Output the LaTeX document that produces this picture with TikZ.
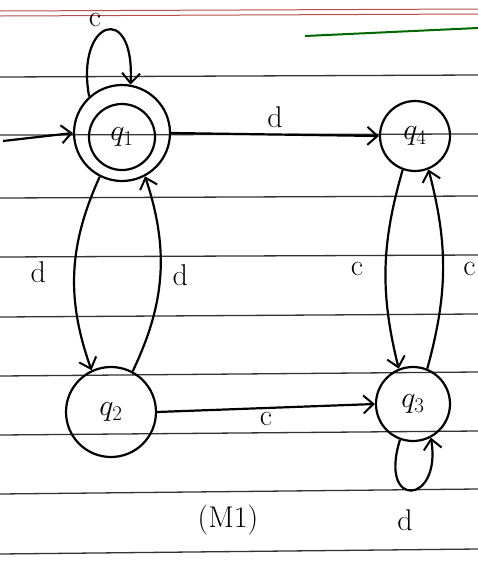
\documentclass[tikz,border=0pt]{standalone}
\usepackage{fix-cm}
\usepackage{fontspec}
\usetikzlibrary{arrows.meta}
\begin{document}
\begin{tikzpicture}[x=1pt,y=-1pt,
  ink/.style={line width=2.2pt,black},
  stt/.style={circle,draw,ink,inner sep=0pt,font=\fontsize{30}{32}\selectfont},
  rule/.style={line width=1.3pt,black!80},
  tr/.style={ink,-{Straight Barb[length=10pt,width=18pt,line width=2pt]}},
  lbl/.style={font=\fontsize{30}{32}\selectfont}]
\useasboundingbox (0,0) rectangle (478,563);
% ruled paper
\draw[line width=1pt,red!60!black!70] (0,11) -- (478,9);
\draw[line width=1pt,red!60!black!70] (0,16) -- (478,14);
\foreach \y/\z in {77/75,135/134,198/196,257/255,317/314,376/372,435/431,494/489,554/549}
  \draw[rule] (0,\y) -- (478,\z);
\draw[line width=2pt,green!40!black] (305,36) -- (478,28);
% states
\node[stt,minimum size=66pt] (q1) at (122,137) {$q_1$};
\node[circle,ink,draw,minimum size=96pt,inner sep=0pt] (q1o) at (122,133) {};
\node[stt,minimum size=70pt] (q4) at (415,136) {$q_4$};
\node[stt,minimum size=90pt] (q2) at (111,412) {$q_2$};
\node[stt,minimum size=74pt] (q3) at (413,404) {$q_3$};
\coordinate (start) at (3,141);
% transitions
\draw[tr] (start) -- (q1o.west);
\draw[tr] (q1o.east) -- node[lbl,above=2pt] {d} (q4.west);
\draw[tr] (q1o.132) .. controls (75,20) and (135,0) .. (q1o.80);
\node[lbl] (lc1) at (95,20) {c};
\draw[tr] (q1o.243) to[bend right=22] node[lbl,left=24pt] {d} (q2.115);
\draw[tr] (q2.62) to[bend right=22] node[lbl,right=8pt] {d} (q1o.-62);
\draw[tr] (q4.250) to[bend right=15] node[lbl,left=18pt] {c} (q3.112);
\draw[tr] (q3.68) to[bend right=15] node[lbl,right=16pt] {c} (q4.-68);
\draw[tr] (q2.east) -- node[lbl,below=0pt] {c} (q3.west);
\draw[tr] (q3.250) .. controls (378,510) and (442,505) .. (q3.-62);
\node[lbl] (ld3) at (405,520) {d};
\node[lbl] (m1) at (228,520) {(M1)};
\end{tikzpicture}
\end{document}
